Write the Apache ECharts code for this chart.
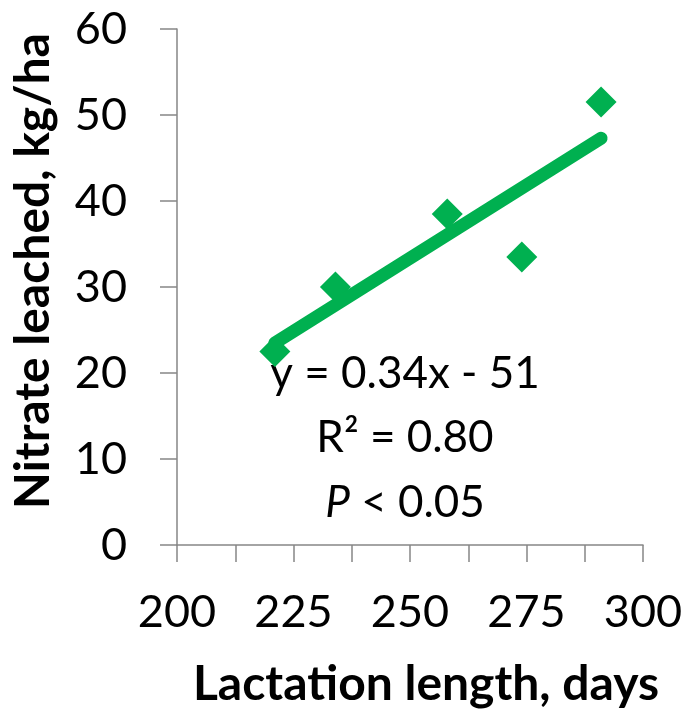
<!DOCTYPE html>
<html>
<head>
<meta charset="utf-8">
<script src="https://cdn.jsdelivr.net/npm/echarts@6/dist/echarts.min.js"></script>
<style>
  html, body { margin: 0; padding: 0; background: #fff; }
  #chart { width: 685px; height: 713px; }
</style>
</head>
<body>
<div id="chart"></div>
<script>
// lactation length (days) and nitrate leached (kg/ha)
const lactationDays = [221, 234, 258, 274, 291]
const nitrateLeached = [22.5, 30, 38.5, 33.5, 51.5]

// trendline endpoints as drawn (y = 0.34x - 51)
const trendDays = [221, 291]
const trendNitrate = [23.5, 47.3]

const equationLines = ['y = 0.34x - 51', 'R² = 0.80']

const green = '#00B050'
const axisGray = '#868686'
const font = 'Lato, "Open Sans", sans-serif'

const chart = echarts.init(document.getElementById('chart'))

const option = {
  animation: false,
  grid: {
    left: 177,
    right: 42,
    top: 29,
    bottom: 168,
    outerBoundsMode: 'none'
  },
  xAxis: {
    type: 'value',
    min: 200,
    max: 300,
    interval: 12.5,
    name: 'Lactation length, days',
    nameLocation: 'middle',
    nameGap: 116,
    nameTextStyle: {
      color: '#000',
      fontFamily: font,
      fontWeight: 'bold',
      fontSize: 48,
      padding: [0, 0, 0, 32]
    },
    axisLine: { lineStyle: { color: axisGray, width: 1.5 } },
    axisTick: { length: 17, lineStyle: { color: axisGray, width: 1.5 } },
    axisLabel: {
      color: '#000',
      fontFamily: font,
      fontSize: 45,
      margin: 45,
      formatter: (v) => (v % 25 === 0 ? String(v) : '')
    },
    splitLine: { show: false }
  },
  yAxis: {
    type: 'value',
    min: 0,
    max: 60,
    interval: 10,
    name: 'Nitrate leached, kg/ha',
    nameLocation: 'middle',
    nameGap: 119,
    nameRotate: 90,
    nameTextStyle: {
      color: '#000',
      fontFamily: font,
      fontWeight: 'bold',
      fontSize: 48,
      padding: [0, 0, 0, 32]
    },
    axisLine: { show: true, lineStyle: { color: axisGray, width: 1.5 } },
    axisTick: { show: true, length: 17, lineStyle: { color: axisGray, width: 1.5 } },
    axisLabel: {
      color: '#000',
      fontFamily: font,
      fontSize: 45,
      margin: 50
    },
    splitLine: { show: false }
  },
  series: [
    {
      name: 'Nitrate',
      type: 'scatter',
      symbol: 'diamond',
      symbolSize: 31,
      itemStyle: { color: green, opacity: 1 },
      data: lactationDays.map((d, i) => [d, nitrateLeached[i]]),
      z: 2
    },
    {
      name: 'Trend',
      type: 'line',
      symbol: 'none',
      lineStyle: { color: green, width: 13, cap: 'round' },
      data: trendDays.map((d, i) => [d, trendNitrate[i]]),
      z: 3
    }
  ]
}

// annotation lines, centred on one x like the text box in the original
const annotationX = 405
const annotationY = [374, 438, 503]
option.graphic = [
  {
    type: 'text',
    x: annotationX,
    y: annotationY[0],
    style: { text: equationLines[0], fill: '#000', font: '44px ' + font, align: 'center', verticalAlign: 'middle' }
  },
  {
    type: 'text',
    x: annotationX,
    y: annotationY[1],
    style: { text: equationLines[1], fill: '#000', font: '44px ' + font, align: 'center', verticalAlign: 'middle' }
  },
  {
    type: 'text',
    x: annotationX,
    y: annotationY[2],
    style: {
      text: '{p|P} < 0.05',
      fill: '#000',
      font: '44px ' + font,
      align: 'center',
      verticalAlign: 'middle',
      rich: {
        p: { fontStyle: 'italic', fontFamily: font, fontSize: 44 }
      }
    }
  }
]

chart.setOption(option)
</script>
</body>
</html>
